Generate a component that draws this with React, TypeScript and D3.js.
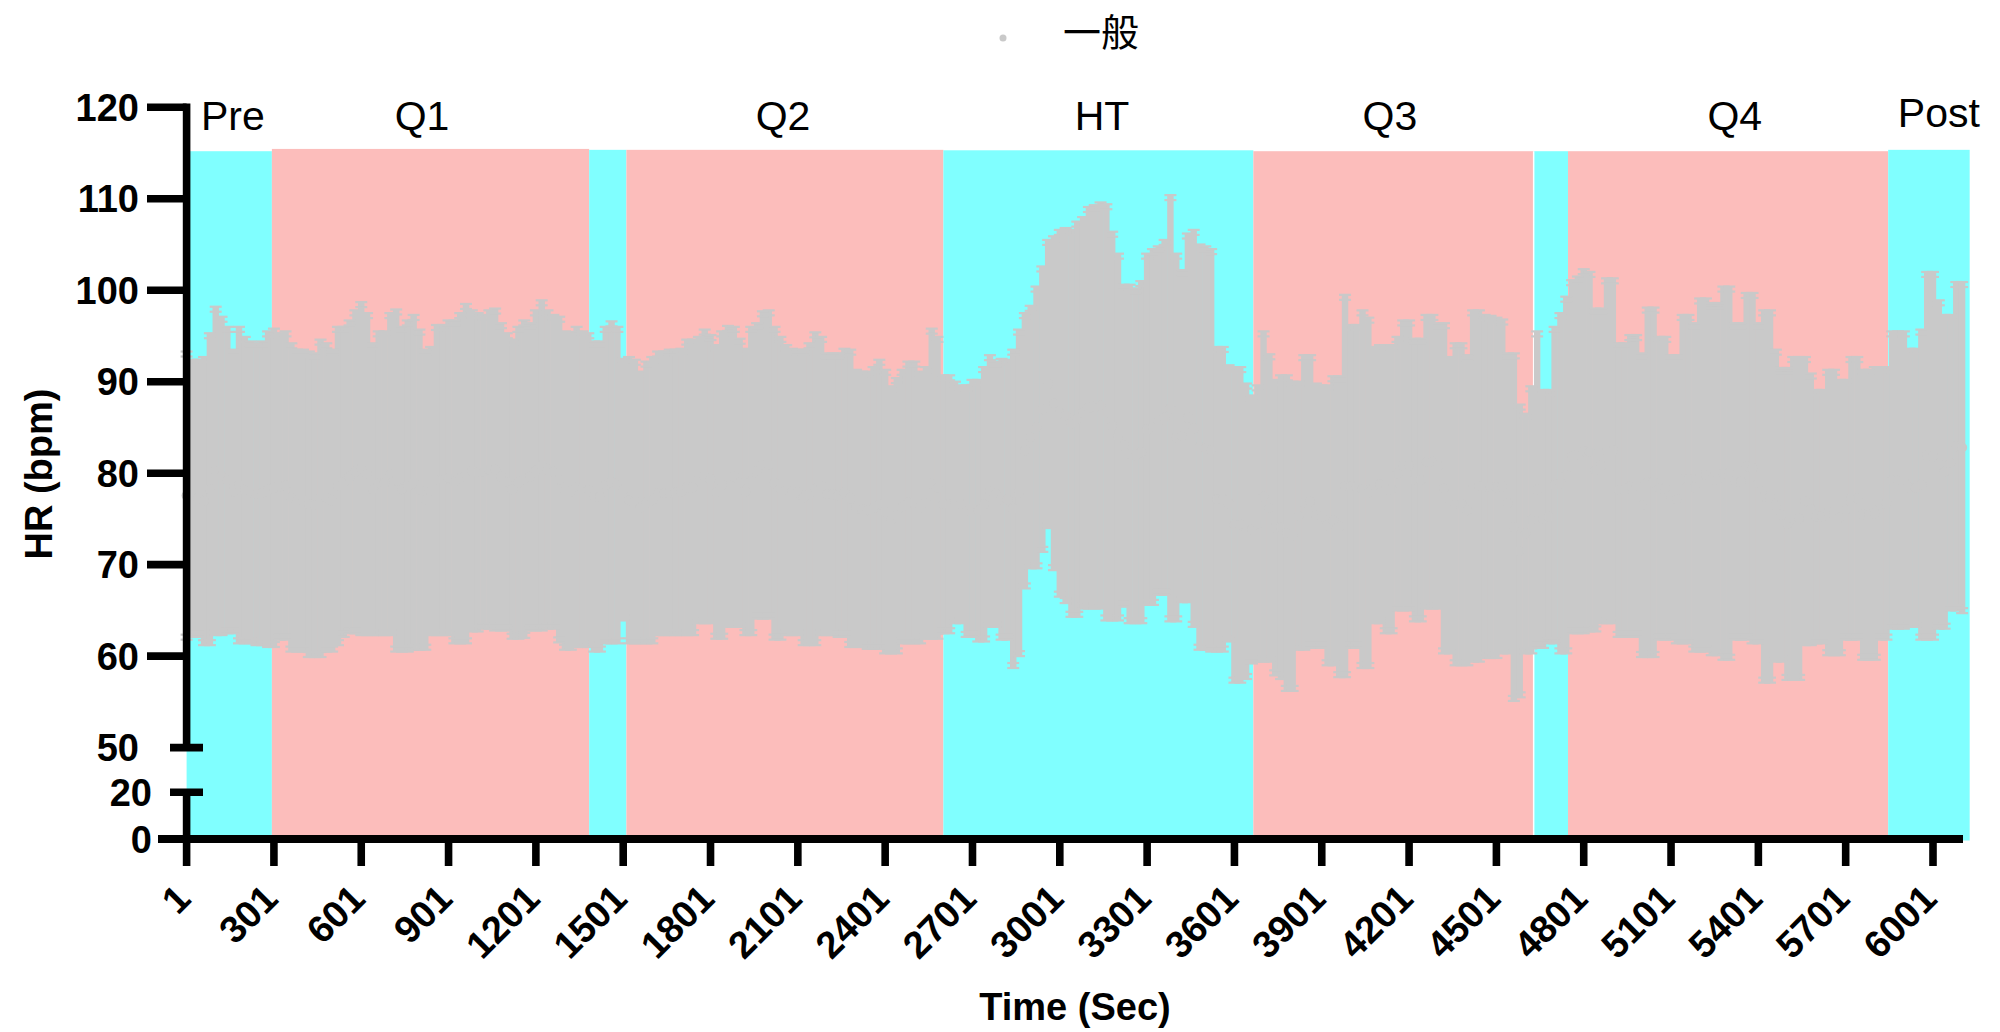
import React from 'react';
import * as d3 from 'd3';

const sampleStart = 1;
const sampleStep = 20;

const upperHR = [
  93.3, 92.4, 92.4, 92.7, 95.3, 98.2, 97.1, 96.0, 93.5, 96.0,
  94.9, 94.4, 94.2, 94.4, 95.5, 95.8, 95.3, 95.5, 94.2, 93.5,
  93.5, 93.3, 93.1, 94.6, 94.2, 93.5, 96.0, 96.0, 96.7, 97.8,
  98.7, 97.5, 94.2, 95.5, 95.5, 97.5, 97.9, 96.0, 96.7, 97.3,
  95.7, 93.5, 93.8, 96.2, 96.2, 96.7, 96.7, 97.5, 98.5, 97.8,
  97.5, 97.3, 97.8, 98.0, 96.4, 95.3, 94.6, 96.0, 96.7, 96.4,
  97.8, 98.9, 97.8, 97.3, 97.1, 95.5, 95.3, 96.0, 95.5, 95.3,
  94.4, 94.4, 96.0, 96.6, 96.0, 92.5, 92.7, 92.4, 91.1, 92.2,
  92.7, 93.3, 93.3, 93.5, 93.5, 93.6, 94.6, 94.6, 94.9, 95.7,
  95.1, 94.0, 95.5, 96.1, 96.0, 94.7, 93.6, 96.0, 96.4, 97.7,
  97.8, 96.0, 94.9, 94.0, 93.6, 93.5, 93.5, 94.2, 95.4, 94.9,
  93.1, 93.1, 93.1, 93.6, 93.5, 91.3, 91.1, 91.1, 91.6, 92.4,
  91.3, 89.5, 90.4, 91.3, 92.2, 92.2, 91.1, 91.6, 95.8, 94.9,
  90.7, 90.7, 90.0, 89.6, 89.6, 90.2, 90.2, 91.6, 92.9, 92.2,
  92.5, 92.4, 93.5, 95.7, 97.5, 98.3, 100.4, 102.6, 105.5, 105.9,
  106.6, 106.8, 106.6, 107.5, 108.0, 109.1, 109.3, 109.6, 109.4, 106.4,
  104.0, 100.6, 100.6, 100.2, 101.0, 104.0, 104.5, 104.8, 105.5, 110.4,
  104.0, 102.2, 106.2, 106.6, 105.0, 104.8, 104.5, 93.8, 93.8, 91.8,
  91.6, 91.6, 89.8, 88.5, 89.6, 95.5, 93.0, 90.2, 90.7, 90.7,
  90.0, 90.0, 92.9, 92.9, 89.8, 89.6, 89.6, 90.6, 90.6, 99.5,
  96.2, 96.2, 97.8, 97.0, 93.8, 94.0, 94.0, 94.0, 94.9, 96.7,
  96.7, 94.7, 94.7, 97.3, 97.3, 96.4, 96.4, 92.7, 94.2, 94.2,
  92.9, 97.8, 97.8, 97.3, 97.2, 97.0, 96.8, 93.1, 93.1, 87.5,
  86.5, 89.5, 95.5, 89.1, 89.1, 96.0, 97.5, 99.3, 101.1, 101.5,
  102.3, 102.0, 98.0, 98.0, 101.3, 101.3, 94.2, 94.2, 95.1, 95.1,
  93.1, 98.1, 98.1, 94.9, 94.9, 92.9, 92.9, 97.3, 97.3, 96.4,
  99.1, 99.1, 98.6, 98.6, 100.4, 100.4, 96.4, 96.4, 99.7, 99.7,
  96.4, 97.8, 97.8, 93.5, 91.5, 91.5, 92.7, 92.7, 92.7, 90.9,
  89.1, 89.1, 91.3, 91.3, 90.2, 90.2, 92.7, 92.7, 91.3, 91.3,
  91.6, 91.6, 91.6, 95.5, 95.5, 95.5, 93.6, 93.6, 95.7, 102.0,
  102.0, 98.9, 97.3, 97.3, 100.9, 100.9,
];

const lowerHR = [
  61.8, 62.1, 62.1, 61.2, 61.2, 62.3, 62.3, 62.5, 62.5, 61.4,
  61.4, 61.4, 61.2, 61.2, 61.0, 61.0, 61.8, 61.8, 60.5, 60.5,
  60.5, 59.9, 59.9, 59.9, 60.5, 60.5, 61.2, 62.1, 62.5, 62.5,
  62.3, 62.3, 62.3, 62.3, 62.3, 62.3, 60.5, 60.5, 60.5, 60.7,
  60.7, 60.7, 62.3, 62.3, 62.3, 62.3, 61.4, 61.4, 61.4, 62.7,
  62.7, 63.0, 63.0, 62.8, 62.8, 62.8, 61.9, 61.9, 62.0, 62.8,
  62.8, 62.8, 63.0, 63.0, 61.5, 60.7, 60.7, 61.0, 61.0, 61.0,
  60.5, 60.5, 61.4, 61.4, 61.4, 63.9, 61.4, 61.4, 61.4, 61.4,
  61.4, 62.3, 62.3, 62.3, 62.3, 62.3, 62.3, 62.3, 63.6, 63.6,
  63.6, 61.9, 61.9, 63.2, 63.2, 63.2, 62.3, 62.3, 64.1, 64.1,
  64.1, 61.8, 61.8, 62.3, 62.3, 62.3, 61.2, 61.2, 61.2, 62.3,
  62.3, 62.3, 62.1, 62.1, 61.0, 61.0, 61.0, 60.8, 60.8, 60.8,
  60.3, 60.3, 60.3, 61.4, 61.4, 61.4, 61.4, 61.9, 61.9, 61.9,
  62.5, 62.5, 63.6, 63.6, 62.1, 62.1, 61.6, 61.6, 63.2, 63.2,
  61.8, 61.8, 58.7, 60.0, 67.4, 69.6, 69.6, 71.4, 74.0, 69.4,
  66.5, 65.8, 64.3, 64.3, 65.2, 65.2, 65.2, 65.2, 63.9, 63.9,
  63.9, 65.4, 63.6, 63.6, 63.6, 65.6, 65.6, 66.7, 66.7, 63.8,
  63.8, 65.9, 65.9, 63.2, 60.7, 60.7, 60.5, 60.5, 60.5, 61.6,
  57.1, 57.1, 57.5, 59.2, 59.4, 59.4, 59.4, 57.9, 57.5, 56.2,
  56.2, 60.7, 60.7, 60.9, 60.9, 60.9, 59.0, 59.0, 57.7, 57.7,
  60.9, 60.9, 58.7, 58.7, 63.6, 63.6, 62.5, 62.5, 65.0, 65.0,
  65.0, 63.8, 63.8, 65.2, 65.2, 65.2, 60.3, 60.3, 59.0, 59.0,
  59.0, 59.4, 59.4, 59.8, 59.8, 59.8, 60.3, 60.3, 55.1, 55.5,
  60.3, 60.3, 60.9, 60.9, 61.4, 61.4, 60.3, 60.3, 62.5, 62.5,
  62.5, 62.7, 62.7, 63.6, 63.6, 63.6, 62.1, 62.1, 62.1, 62.1,
  59.9, 59.9, 59.9, 61.8, 61.8, 61.8, 61.4, 61.4, 61.4, 60.5,
  60.5, 60.5, 60.1, 60.1, 59.6, 59.6, 61.8, 61.8, 61.8, 61.4,
  61.4, 57.1, 57.1, 59.4, 59.4, 57.4, 57.4, 57.4, 61.2, 61.2,
  61.4, 61.4, 60.1, 60.1, 60.1, 61.8, 61.8, 61.8, 59.6, 59.6,
  59.6, 61.8, 61.8, 63.0, 63.0, 63.0, 63.2, 63.2, 61.8, 61.8,
  61.8, 63.0, 63.0, 65.0, 65.0, 64.7,
];

// Background phase bands (time in s)
const bandEdges = [1, 294, 1384, 1512, 2601, 3666, 4629, 4747, 5847, 6127];
const bandKind = ['rest', 'task', 'rest', 'task', 'rest', 'task', 'rest', 'task', 'rest'];
const bandTop = [115.2, 115.45, 115.35, 115.35, 115.3, 115.2, 115.2, 115.2, 115.35];

const phaseNames = ['Pre', 'Q1', 'Q2', 'HT', 'Q3', 'Q4', 'Post'];
const phaseLabelTime = [160, 810, 2050, 3146, 4135, 5320, 6021];

const xTickValues = [1, 301, 601, 901, 1201, 1501, 1801, 2101, 2401, 2701, 3001, 3301, 3601, 3901, 4201, 4501, 4801, 5101, 5401, 5701, 6001];
const yTicksUpper = [60, 70, 80, 90, 100, 110, 120];
const yBreakTicks = [50, 20];

const seriesName = '一般';

const COLORS = {
  rest: '#80FFFF',
  task: '#FCBDBB',
  data: '#C9C9C9',
  axis: '#000000',
};

const FONT = "'Liberation Sans', Arial, Helvetica, sans-serif";

export default function App() {
  const x = d3.scaleLinear().domain([1, 6001]).range([186.6, 1933]);
  const y = d3.scaleLinear().domain([0, 20, 50, 120]).range([839, 792.3, 747.6, 107.3]);

  const sw = 7.6;
  const axisX = x(1);
  const halfW = (x(1 + sampleStep) - x(1)) / 2;

  const samples = upperHR.map((u, i) => ({
    t: sampleStart + i * sampleStep,
    u,
    l: lowerHR[i],
  }));

  return (
    <svg
      width={2000}
      height={1032}
      style={{ position: 'absolute', left: 0, top: 0, display: 'block', background: '#fff' }}
    >
      {/* legend */}
      <circle cx={1003} cy={38} r={3.5} fill={COLORS.data} />
      <text x={1063} y={46} fontSize={38} fontFamily="'Noto Sans CJK SC', 'Noto Sans CJK JP', sans-serif" fill="#000">
        {seriesName}
      </text>

      {/* bands */}
      {bandKind.map((k, i) => (
        <rect
          key={'b' + i}
          x={x(bandEdges[i])}
          y={y(bandTop[i])}
          width={x(bandEdges[i + 1]) - x(bandEdges[i])}
          height={y(0) - y(bandTop[i]) + 1.5}
          fill={COLORS[k as 'rest' | 'task']}
        />
      ))}
      <line x1={x(bandEdges[6])} x2={x(bandEdges[6])} y1={y(bandTop[6])} y2={y(0)} stroke="#fff" strokeWidth={1.5} />

      {/* phase labels */}
      {phaseNames.map((p, i) => (
        <text
          key={'p' + i}
          x={x(phaseLabelTime[i])}
          y={p === 'Post' ? 127 : 130}
          fontSize={41}
          fontFamily={FONT}
          textAnchor="middle"
          fill="#000"
        >
          {p}
        </text>
      ))}

      {/* data: mean ± SD error bars */}
      <g fill={COLORS.data} stroke="none">
        {samples.map((s, i) => {
          const cx = x(s.t);
          return (
            <rect
              key={'r' + i}
              x={cx - halfW - 0.3}
              y={y(s.u)}
              width={halfW * 2 + 0.6}
              height={y(s.l) - y(s.u)}
            />
          );
        })}
      </g>
      <g stroke={COLORS.data} strokeWidth={2.2}>
        {samples.map((s, i) => {
          const cx = x(s.t);
          return (
            <g key={'c' + i}>
              <line x1={cx - 6} x2={cx + 6} y1={y(s.u)} y2={y(s.u)} />
              <line x1={cx - 6} x2={cx + 6} y1={y(s.u) + 5} y2={y(s.u) + 5} />
              <line x1={cx - 6} x2={cx + 6} y1={y(s.l)} y2={y(s.l)} />
              <line x1={cx - 6} x2={cx + 6} y1={y(s.l) - 5} y2={y(s.l) - 5} />
            </g>
          );
        })}
      </g>
      <g fill={COLORS.data}>
        {samples.map((s, i) => (
          <circle key={'m' + i} cx={x(s.t)} cy={y((s.u + s.l) / 2)} r={5} />
        ))}
      </g>

      {/* y axis (broken) */}
      <g stroke={COLORS.axis} strokeWidth={sw}>
        <line x1={axisX} x2={axisX} y1={y(120) - sw / 2} y2={y(50)} />
        <line x1={axisX} x2={axisX} y1={y(20)} y2={y(0)} />
        {yTicksUpper.map((v) => (
          <line key={'yt' + v} x1={147} x2={axisX} y1={y(v)} y2={y(v)} />
        ))}
        {yBreakTicks.map((v) => (
          <line key={'yb' + v} x1={170} x2={203} y1={y(v)} y2={y(v)} />
        ))}
      </g>
      <g fontFamily={FONT} fontWeight="bold" fontSize={38} fill="#000" textAnchor="end">
        {yTicksUpper.map((v) => (
          <text key={'yl' + v} x={139} y={y(v)} dy="0.36em">{v}</text>
        ))}
        <text x={139} y={y(50)} dy="0.36em">50</text>
        <text x={152} y={y(20)} dy="0.36em">20</text>
        <text x={152} y={y(0)} dy="0.36em">0</text>
      </g>

      {/* x axis */}
      <g stroke={COLORS.axis} strokeWidth={sw}>
        <line x1={158} x2={1963} y1={y(0)} y2={y(0)} strokeWidth={8} />
        {xTickValues.map((v) => (
          <line key={'xt' + v} x1={x(v)} x2={x(v)} y1={y(0)} y2={866} />
        ))}
      </g>
      <g fontFamily={FONT} fontWeight="bold" fontSize={38} fill="#000" textAnchor="end">
        {xTickValues.map((v) => (
          <text key={'xl' + v} transform={`translate(${x(v) + 6},901) rotate(-45)`}>{v}</text>
        ))}
      </g>

      {/* axis titles */}
      <text x={1075} y={1020} fontFamily={FONT} fontWeight="bold" fontSize={38} textAnchor="middle" fill="#000">
        Time (Sec)
      </text>
      <text transform="translate(52,474) rotate(-90)" fontFamily={FONT} fontWeight="bold" fontSize={38} textAnchor="middle" fill="#000">
        HR (bpm)
      </text>
    </svg>
  );
}
